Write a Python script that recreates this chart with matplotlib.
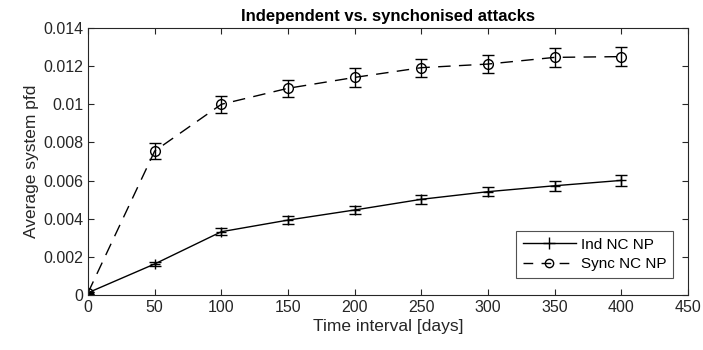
import numpy as np
import matplotlib.pyplot as plt
from matplotlib.lines import Line2D

plt.rcParams['font.family'] = ['Liberation Sans', 'DejaVu Sans']

# data
days = [0, 50, 100, 150, 200, 250, 300, 350, 400]
ind_pfd = [0.00012, 0.00163, 0.00332, 0.00393, 0.00446, 0.00502, 0.00542, 0.00573, 0.00601]
ind_err = [0.00005, 0.00010, 0.00018, 0.00020, 0.00022, 0.00024, 0.00025, 0.00026, 0.00027]
sync_pfd = [0.00012, 0.00755, 0.01000, 0.01084, 0.01141, 0.01192, 0.01211, 0.01246, 0.01250]
sync_err = [0.00005, 0.00040, 0.00045, 0.00045, 0.00048, 0.00048, 0.00048, 0.00048, 0.00048]

dash = (0, (9, 6))

fig = plt.figure(figsize=(7.03, 3.5), dpi=100)
ax = fig.add_axes([0.1252, 0.157, 0.8535, 0.763])

ax.errorbar(days, ind_pfd, yerr=ind_err, color='k', lw=1.0, marker='+', ms=7,
            mew=1.0, capsize=4, elinewidth=1.0)
ax.errorbar(days, sync_pfd, yerr=sync_err, color='k', lw=1.0, ls=dash,
            marker='o', ms=7, mfc='none', mew=1.0, capsize=4, elinewidth=1.0)

ax.set_xlim(0, 450)
ax.set_ylim(0, 0.014)
ax.set_xticks(np.arange(0, 451, 50))
ax.set_yticks(np.arange(0, 0.0141, 0.002))
ax.set_yticklabels(['0', '0.002', '0.004', '0.006', '0.008', '0.01', '0.012', '0.014'])

ax.tick_params(direction='in', top=True, right=True, length=4, width=0.8,
               colors='#262626', labelsize=11.5, labelcolor='#262626')
for s in ax.spines.values():
    s.set_color('#262626')
    s.set_linewidth(0.8)

ax.set_xlabel('Time interval [days]', fontsize=12.5, color='#262626', labelpad=3)
ax.set_ylabel('Average system pfd', fontsize=12.5, color='#262626', labelpad=3)
ax.set_title('Independent vs. synchonised attacks', fontsize=12, fontweight='bold', pad=5)

handles = [
    Line2D([], [], color='k', lw=1.0, marker='+', ms=8, mew=1.0),
    Line2D([], [], color='k', lw=1.0, ls=(0, (7, 6)), marker='o', ms=6, mfc='none', mew=1.0),
]
leg = ax.legend(handles, ['Ind NC NP', 'Sync NC NP'], loc='lower right', fontsize=11,
                frameon=True, fancybox=False, edgecolor='#262626', handlelength=3.5,
                handletextpad=0.3, borderpad=0.45, labelspacing=0.35,
                bbox_to_anchor=(0.988, 0.035))
leg.get_frame().set_linewidth(0.8)

fig.savefig('out.png', dpi=100)
